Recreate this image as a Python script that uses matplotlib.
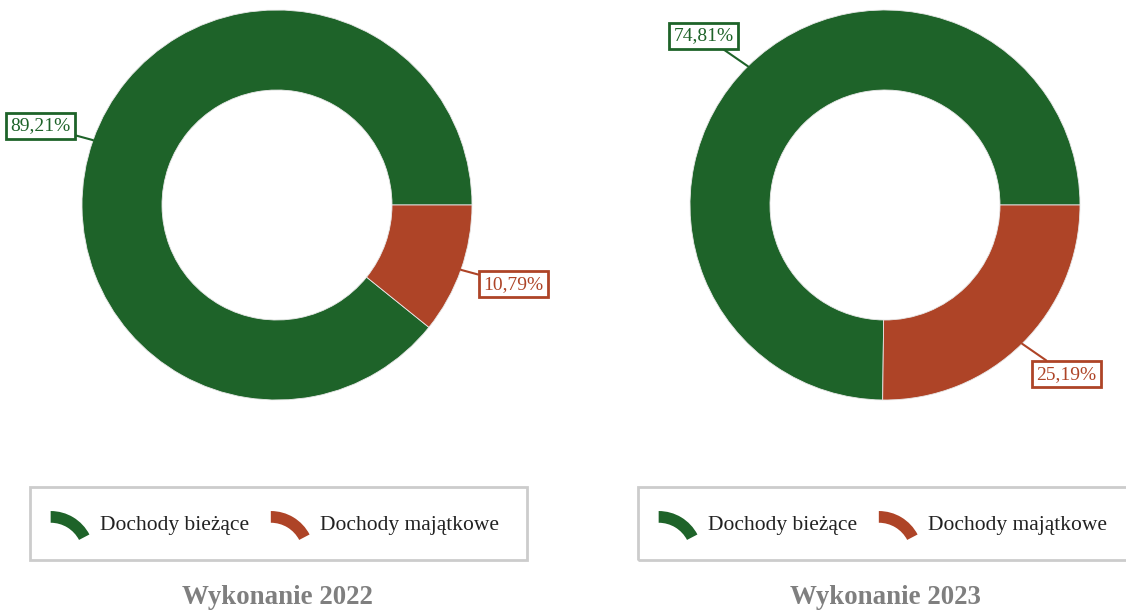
import numpy as np
import matplotlib
matplotlib.use("Agg")
import matplotlib.pyplot as plt
from matplotlib.patches import Wedge, Rectangle
from matplotlib.legend_handler import HandlerPatch

plt.rcParams['font.family'] = ['Liberation Serif', 'DejaVu Serif']

categories = ['Dochody bieżące', 'Dochody majątkowe']
titles = ['Wykonanie 2022', 'Wykonanie 2023']
values_2022 = [89.21, 10.79]
values_2023 = [74.81, 25.19]
colors = ['#1e6329', '#ae4427']

W, H = 1126, 612
fig = plt.figure(figsize=(W / 100, H / 100), dpi=100)


class HandlerArc(HandlerPatch):
    # legend symbol: a piece of ring like the donut itself
    def create_artists(self, legend, orig_handle, xdescent, ydescent,
                       width, height, fontsize, trans):
        x0, y0 = -xdescent, -ydescent
        R = (width ** 2 + height ** 2) / (2 * height)
        cy = y0 + height - R
        t1 = np.degrees(np.arctan2(R - height, width))
        p = Wedge((x0, cy), R, t1, 90, width=0.5 * height,
                  facecolor=orig_handle.get_facecolor(), edgecolor='none')
        p.set_transform(trans)
        return [p]


def donut(cx, vals, title):
    r = 195
    ax = fig.add_axes([(cx - r) / W, (H - 205 - r) / H, 2 * r / W, 2 * r / H])
    wedges, _ = ax.pie(vals, colors=colors, startangle=0, counterclock=True,
                       radius=1, wedgeprops=dict(width=80 / 195, edgecolor='#e8e8e8', linewidth=0.6))
    ax.set_xlim(-1, 1)
    ax.set_ylim(-1, 1)
    ax.set_aspect('equal')
    ax.axis('off')
    for w, v, c in zip(wedges, vals, colors):
        ang = np.radians((w.theta1 + w.theta2) / 2)
        ax_, ay_ = np.cos(ang), np.sin(ang)
        side = np.sign(ax_)
        tx, ty = ax_ * 1.18 + side * 0.1, ay_ * 1.22
        ax.annotate(f'{v:.2f}'.replace('.', ',') + '%', xy=(ax_, ay_), xytext=(tx, ty),
                    ha='center', va='center', fontsize=14, color=c,
                    bbox=dict(boxstyle='square,pad=0.22', fc='white', ec=c, lw=2),
                    arrowprops=dict(arrowstyle='-', color=c, lw=1.5, shrinkA=0, shrinkB=0),
                    annotation_clip=False)

    # legend frame
    x0, x1 = cx - 247, cx + 250
    fig.patches.append(Rectangle((x0 / W, (H - 560) / H), (x1 - x0) / W, 73 / H,
                                 transform=fig.transFigure, fill=False,
                                 ec='#cccccc', lw=2))
    handles = [Wedge((0, 0), 1, 0, 90, facecolor=c) for c in colors]
    fig.legend(handles, categories, loc='center', bbox_to_anchor=((cx - 2) / W, (H - 523) / H),
               ncol=2, frameon=False, fontsize=15.5, handlelength=1.8, handleheight=1.3,
               handletextpad=0.5, columnspacing=1.0, labelcolor='#222222',
               handler_map={Wedge: HandlerArc()})
    fig.text(cx / W, (H - 597) / H, title, ha='center', va='center',
             fontsize=19.4, fontweight='bold', color='#7f7f7f')


donut(277, values_2022, titles[0])
donut(885, values_2023, titles[1])

fig.savefig('out.png', dpi=100)
